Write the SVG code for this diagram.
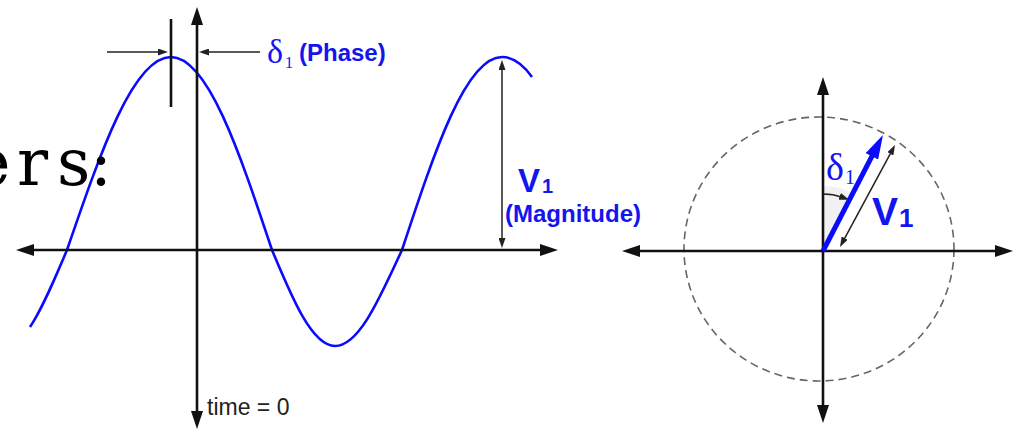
<svg xmlns="http://www.w3.org/2000/svg" width="1015" height="430" viewBox="0 0 1015 430">
<style>
.axis{stroke:#111;stroke-width:2.6;fill:none}
.thin{stroke:#222;stroke-width:1.5;fill:none}
.wave{stroke:#0a0aff;stroke-width:2.6;fill:none}
.blue{fill:#1414f0;font-family:"Liberation Sans",Arial,sans-serif;font-weight:bold}
.greek{fill:#1414f0;font-family:"Liberation Serif","Times New Roman",serif}
.big{fill:#000;font-family:"DejaVu Serif","Liberation Serif",serif}
.lbl{fill:#222;font-family:"Liberation Sans",Arial,sans-serif}
</style>
<defs>
<marker id="ah" viewBox="0 0 18 12" refX="6" refY="6" markerWidth="18" markerHeight="12" markerUnits="userSpaceOnUse" orient="auto-start-reverse"><path d="M0,0 L18,6 L0,12 z" fill="#111"/></marker>
<marker id="sh" viewBox="0 0 10 7" refX="3" refY="3.5" markerWidth="10" markerHeight="7" markerUnits="userSpaceOnUse" orient="auto-start-reverse"><path d="M0,0 L10,3.5 L0,7 z" fill="#222"/></marker>
<marker id="bh" viewBox="0 0 24 14" refX="8" refY="7" markerWidth="24" markerHeight="14" markerUnits="userSpaceOnUse" orient="auto"><path d="M0,0 L24,7 L0,14 z" fill="#0a0aff"/></marker>
</defs>
<rect width="1015" height="430" fill="#fff"/>
<g id="waveform">
<path class="wave" d="M30,327 C42.3,308.9 54.7,278.8 67,250 C100.9,151.1 133.4,57 171,57 C207.6,57 239.1,151.1 272,250 C292.5,299.2 312.2,346 335,346 C359.3,346 380.2,296.8 402,250 C434.6,151.1 465.8,57 502,57 C512,57 522,63 532,77"/>
</g>
<g id="heading-text">
<text class="big" font-size="65" x="-28 17 57 90" y="185">ers:</text>
</g>
<g id="connectors">
<line class="axis" x1="28" y1="250" x2="546" y2="250" marker-start="url(#ah)" marker-end="url(#ah)"/>
<line class="axis" x1="197" y1="19" x2="197" y2="417" marker-start="url(#ah)" marker-end="url(#ah)"/>
<line class="axis" x1="171" y1="19" x2="171" y2="107"/>
<line class="thin" x1="107" y1="52" x2="161" y2="52" marker-end="url(#sh)"/>
<line class="thin" x1="260" y1="52" x2="206" y2="52" marker-end="url(#sh)"/>
<line class="thin" x1="502" y1="67" x2="502" y2="241" marker-start="url(#sh)" marker-end="url(#sh)"/>
<path d="M823,251 L823,186 A65,65 0 0 1 852.8,193.2 Z" fill="#f1f1f1"/>
<ellipse cx="819" cy="249" rx="135" ry="132" fill="none" stroke="#666" stroke-width="1.6" stroke-dasharray="8 5"/>
<line class="axis" x1="634" y1="251" x2="1001" y2="251" marker-start="url(#ah)" marker-end="url(#ah)"/>
<line class="axis" x1="823" y1="89" x2="823" y2="411" marker-start="url(#ah)" marker-end="url(#ah)"/>
<path class="thin" d="M823,194 A57,57 0 0 1 842.5,197.4" marker-end="url(#sh)"/>
<line class="thin" x1="843.3" y1="240.8" x2="891.7" y2="151.2" marker-start="url(#sh)" marker-end="url(#sh)"/>
</g>
<g id="phase-label">
<text class="greek" font-size="34" x="267" y="63">δ</text>
<text class="greek" font-size="16" x="285" y="68">1</text>
<text class="blue" font-size="24" x="299" y="61">(Phase)</text>
</g>
<g id="magnitude-label">
<text class="blue" font-size="33" x="518" y="192">V</text>
<text class="blue" font-size="20" x="542" y="193">1</text>
<text class="blue" font-size="24" x="505" y="222">(Magnitude)</text>
</g>
<g id="time-label">
<text class="lbl" font-size="23" x="207" y="415">time = 0</text>
</g>
<g id="phasor-labels">
<text class="greek" font-size="38" x="826" y="180">δ</text>
<text class="greek" font-size="20" x="845" y="184">1</text>
<text class="blue" font-size="39" x="872" y="225">V</text>
<text class="blue" font-size="26" x="899" y="227">1</text>
</g>
<g id="phasor">
<line x1="823" y1="251" x2="875.6" y2="149.2" stroke="#0a0aff" stroke-width="5" marker-end="url(#bh)"/>
</g>
</svg>
